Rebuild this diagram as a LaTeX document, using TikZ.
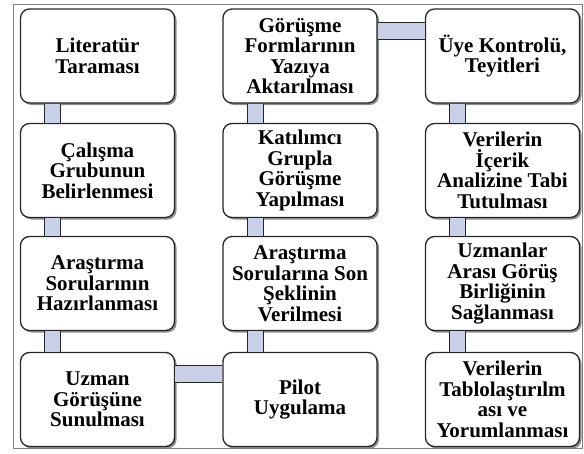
\documentclass[tikz,border=0pt]{standalone}
\usepackage{fontspec}
\setmainfont{Liberation Serif}
\usetikzlibrary{shadows}
\definecolor{linkblue}{RGB}{200,208,232}
\tikzset{stepbox/.style = {draw=black!85, fill=white, line width=1.3pt,
                           rounded corners=9pt, inner sep=0pt,
                           minimum width=154pt, minimum height=94pt,
                           align=center, font=\fontsize{21}{20.5}\selectfont\bfseries,
                           drop shadow={shadow xshift=2pt, shadow yshift=-2pt,
                                        fill=black!55, opacity=0.8}},
         linkside/.style = {draw=black!85, line width=1.2pt}}

\begin{document}
\begin{tikzpicture}[x=1pt, y=-1pt]
    \useasboundingbox (0, 0) rectangle (584, 453);
    \draw [gray, line width=0.8pt] (13, 4) rectangle (582, 448);
    % left column
    \node [stepbox] (lit) at (97.5, 56)    {Literatür\\Taraması};
    \node [stepbox] (cal) at (97.5, 170.5) {Çalışma\\Grubunun\\Belirlenmesi};
    \node [stepbox] (ars) at (97.5, 283.5) {Araştırma\\Sorularının\\Hazırlanması};
    \node [stepbox] (uzm) at (97.5, 399.5) {Uzman\\Görüşüne\\Sunulması};
    % middle column
    \node [stepbox] (gor) at (300, 56)    {Görüşme\\Formlarının\\Yazıya\\Aktarılması};
    \node [stepbox] (kat) at (300, 170.5) {Katılımcı\\Grupla\\Görüşme\\Yapılması};
    \node [stepbox] (son) at (300, 283.5) {Araştırma\\Sorularına Son\\Şeklinin\\Verilmesi};
    \node [stepbox] (pil) at (300, 399.5) {Pilot\\Uygulama};
    % right column
    \node [stepbox] (uye) at (502.5, 56)    {Üye Kontrolü,\\Teyitleri};
    \node [stepbox] (ver) at (502.5, 170.5) {Verilerin\\İçerik\\Analizine Tabi\\Tutulması};
    \node [stepbox] (uzb) at (502.5, 283.5) {Uzmanlar\\Arası Görüş\\Birliğinin\\Sağlanması};
    \node [stepbox] (tab) at (502.5, 399.5) {Verilerin\\Tablolaştırılm\\ası ve\\Yorumlanması};
    % vertical links
    \foreach \a/\b in {lit/cal, cal/ars, ars/uzm, gor/kat, kat/son, son/pil,
                       uye/ver, ver/uzb, uzb/tab} {
        \fill [linkblue] ([xshift=25pt] \a.south west) rectangle ([xshift=41pt] \b.north west);
        \draw [linkside] ([xshift=25pt] \a.south west) -- ([xshift=25pt] \b.north west)
                         ([xshift=41pt] \a.south west) -- ([xshift=41pt] \b.north west);
    }
    % horizontal links
    \foreach \a/\b in {uzm/pil, gor/uye} {
        \fill [linkblue] ([yshift=-14pt] \a.north east) rectangle ([yshift=-31pt] \b.north west);
        \draw [linkside] ([yshift=-14pt] \a.north east) -- ([yshift=-14pt] \b.north west)
                         ([yshift=-31pt] \a.north east) -- ([yshift=-31pt] \b.north west);
    }
\end{tikzpicture}
\end{document}
